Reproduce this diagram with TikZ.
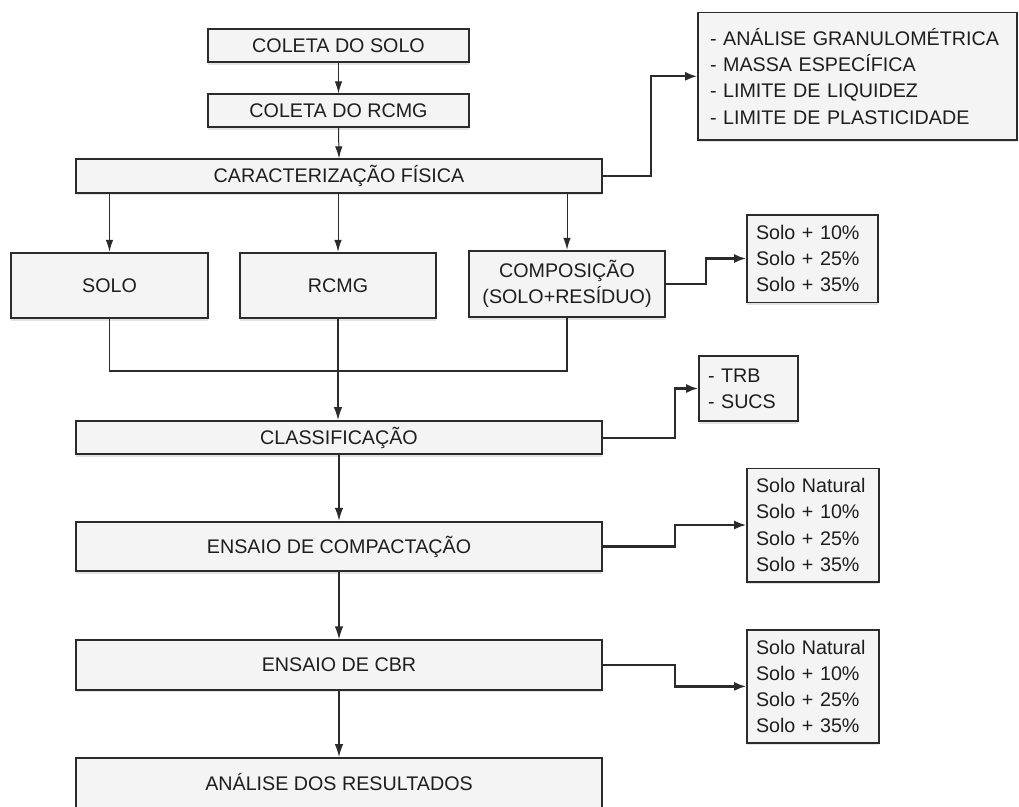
\documentclass[tikz,border=0pt]{standalone}
\usepackage{fontspec}
\setmainfont{Liberation Sans}
\usetikzlibrary{arrows.meta,shadows}
\definecolor{boxfill}{HTML}{F4F4F4}
\definecolor{boxline}{HTML}{2B2B2B}
\definecolor{txt}{HTML}{1E1E1E}
\begin{document}
\begin{tikzpicture}[x=1pt,y=-1pt,
  box/.style={draw=boxline, line width=1.8pt, fill=boxfill, inner sep=0pt, text=txt,
    font=\fontsize{19.7}{26.3}\selectfont, align=center,
    drop shadow={shadow xshift=0pt, shadow yshift=-2.5pt, opacity=0.22}},
  listbox/.style={box, align=left, line width=1.6pt},
  thinarrow/.style={draw=boxline, line width=1pt, -{Latex[length=12pt,width=7.5pt]}},
  trunk/.style={draw=boxline, line width=1.5pt, -{Latex[length=13pt,width=8.5pt]}},
  joinline/.style={draw=boxline, line width=1.8pt},
  sidearrow/.style={draw=boxline, line width=2.2pt, -{Latex[length=12pt,width=9pt]}}
]
\clip (0,0) rectangle (1019,806);
\fill[white] (0,0) rectangle (1019,806);

% main column
\node[box, minimum width=261, minimum height=33] (solo1) at (338.5,45.5) {COLETA DO SOLO};
\node[box, minimum width=261, minimum height=33] (rcmg1) at (338.5,110.8) {COLETA DO RCMG};
\node[box, minimum width=526, minimum height=33.4] (cf) at (339,176) {CARACTERIZAÇÃO FÍSICA};

\node[listbox, text width=295, inner xsep=12, minimum height=127.3] (tests) at (857.5,76.3)
  {- ANÁLISE GRANULOMÉTRICA\\- MASSA ESPECÍFICA\\- LIMITE DE LIQUIDEZ\\- LIMITE DE PLASTICIDADE};

\node[box, minimum width=197, minimum height=65.6] (soloBox) at (109.5,285.5) {SOLO};
\node[box, minimum width=196, minimum height=65.6] (rcmgBox) at (338,285.5) {RCMG};
\node[box, minimum width=196, minimum height=66.6] (compBox) at (567,284) {COMPOSIÇÃO\\(SOLO+RESÍDUO)};

\node[listbox, text width=113, inner xsep=9, minimum height=87.6] (mix1) at (812.5,258.5)
  {Solo + 10\%\\Solo + 25\%\\Solo + 35\%};

\node[box, minimum width=526, minimum height=33.3] (class) at (339,437.7) {CLASSIFICAÇÃO};
\node[listbox, text width=81, inner xsep=9, minimum height=65] (trb) at (748.5,388.5)
  {- TRB\\- SUCS};

\node[box, minimum width=526, minimum height=49.6] (compact) at (339,546.5) {ENSAIO DE COMPACTAÇÃO};
\node[listbox, text width=114, inner xsep=9, minimum height=113.4] (mix2) at (813,525)
  {Solo Natural\\Solo + 10\%\\Solo + 25\%\\Solo + 35\%};

\node[box, minimum width=526, minimum height=49.4] (cbr) at (339,665) {ENSAIO DE CBR};
\node[listbox, text width=114, inner xsep=9, minimum height=112.7] (mix3) at (813,686.4)
  {Solo Natural\\Solo + 10\%\\Solo + 25\%\\Solo + 35\%};

\node[box, minimum width=526, minimum height=50] (result) at (339,783) {\raisebox{2pt}{ANÁLISE DOS RESULTADOS}};

\coordinate (join) at (338,370.7);

% connectors
\draw[thinarrow] (solo1.south) -- (rcmg1.north);
\draw[thinarrow] (rcmg1.south) -- (cf.north);
\draw[sidearrow] (cf.east) -- ++(48,0) |- (tests.west);

\draw[thinarrow] (soloBox.north |- cf.south) -- (soloBox.north);
\draw[thinarrow] (rcmgBox.north |- cf.south) -- (rcmgBox.north);
\draw[thinarrow] (compBox.north |- cf.south) -- (compBox.north);

\draw[sidearrow] (compBox.east) -- ++(40,0) |- (mix1.west);

\draw[joinline] (soloBox.south) |- (join) -| (compBox.south);
\draw[trunk] (rcmgBox.south) -- (rcmgBox.south |- class.north);

\draw[sidearrow] (class.east) -- ++(72,0) |- (trb.west);
\draw[trunk] (class.south) -- (compact.north);
\draw[sidearrow] (compact.east) -- ++(72,0) |- (mix2.west);
\draw[trunk] (compact.south) -- (cbr.north);
\draw[sidearrow] (cbr.east) -- ++(72,0) |- (mix3.west);
\draw[trunk] (cbr.south) -- (result.north);
\end{tikzpicture}
\end{document}
